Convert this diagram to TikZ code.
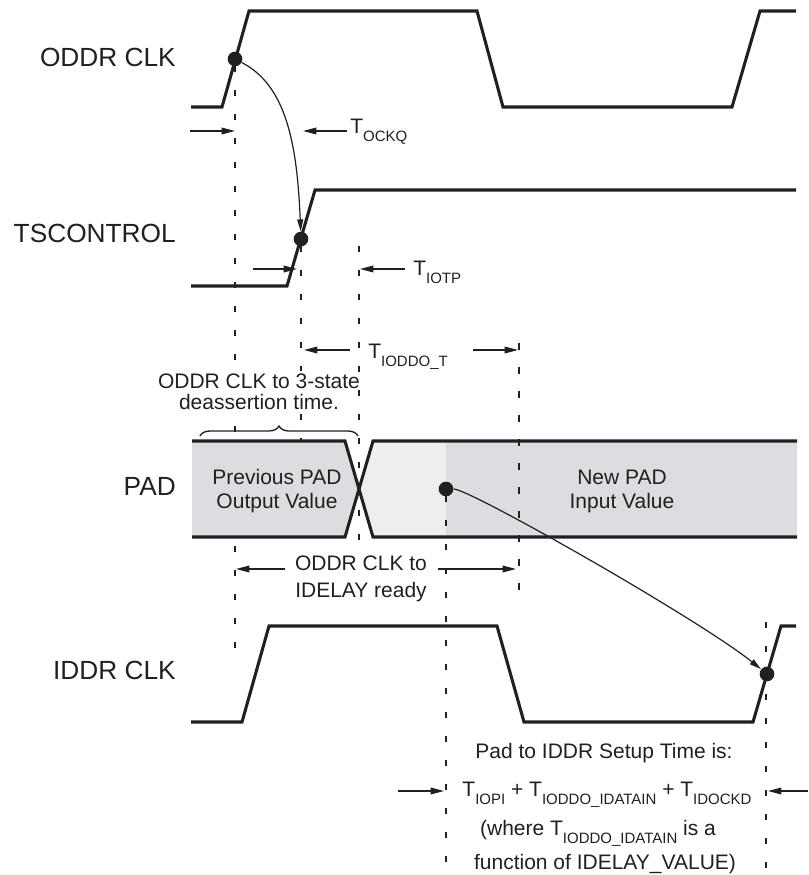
\documentclass[tikz,border=0pt]{standalone}
\usepackage{fontspec}
\setmainfont{Liberation Sans}
\usetikzlibrary{arrows.meta,decorations.pathreplacing}
\definecolor{padgray}{RGB}{220,221,224}
\definecolor{padlight}{RGB}{238,238,238}
\definecolor{ink}{RGB}{35,31,32}
\newcommand{\Tsb}[1]{T\raisebox{-6.5pt}{\fontsize{11.25}{12}\selectfont #1}}
\begin{document}
\begin{tikzpicture}[x=0.75pt,y=-0.75pt,
  wave/.style={line width=2.3pt, line join=miter, draw=ink},
  guide/.style={line width=1.1pt, draw=ink, dash pattern=on 4.3pt off 13.7pt},
  guidethick/.style={line width=2.2pt, draw=ink, dash pattern=on 5.3pt off 12.7pt},
  dim/.style={line width=1pt, draw=ink, -{Triangle[length=10pt,width=5pt]}},
  flow/.style={line width=0.9pt, draw=ink, -{Triangle[length=9pt,width=4.5pt]}},
  dot/.style={circle, fill=ink, inner sep=0pt, minimum size=11pt},
  sig/.style={font=\fontsize{19.7}{23}\selectfont, text=ink, anchor=east, inner sep=0pt},
  ann/.style={font=\fontsize{15.75}{19}\selectfont, text=ink, anchor=base, inner sep=0pt},
  tlab/.style={font=\fontsize{15.75}{19}\selectfont, text=ink, anchor=base west, inner sep=0pt},
]
\useasboundingbox (0,0) rectangle (808,875);

% ---------- guides hidden behind the previous PAD value ----------
\draw[guide] (235,66) -- (235,655);
\draw[guide] (301,246) -- (301,441);

% ---------- brace texts (white, hide guides) ----------
\node[ann, fill=white, inner sep=2pt] (br1) at (259,388) {ODDR CLK to 3-state};
\node[ann, fill=white, inner sep=2pt] (br2) at (259,409) {deassertion time.};

% ---------- PAD fills ----------
\fill[padgray] (192,441) -- (345,441) -- (359,489) -- (345,537) -- (192,537) -- cycle;
\fill[padlight] (373,441) -- (446,441) -- (446,537) -- (373,537) -- (359,489) -- cycle;
\fill[padgray] (446,441) rectangle (797,537);

% ---------- other guides ----------
\draw[guide] (359,246) -- (359,540);
\draw[guidethick] (519,343) -- (519,592);
\draw[guide] (446,496) -- (446,875);
\draw[guide] (766,622) -- (766,875);

% ---------- signal labels ----------
\node[sig] (lodd) at (176,57) {ODDR CLK};
\node[sig] (lts)  at (176,233) {TSCONTROL};
\node[sig] (lpad) at (176,486) {PAD};
\node[sig] (lidd) at (176,670) {IDDR CLK};

% ---------- waveforms ----------
\draw[wave] (191,107) -- (222,107) -- (249,11) -- (477,11) -- (503,107) -- (732,107) -- (760,11) -- (796,11);
\draw[wave] (191,286) -- (287,286) -- (315,190) -- (796,190);
\draw[wave] (192,441) -- (345,441) -- (373,537) -- (797,537);
\draw[wave] (192,537) -- (345,537) -- (373,441) -- (797,441);
\draw[wave] (191,722) -- (242,722) -- (269,626) -- (497,626) -- (524,722) -- (753,722) -- (781,626) -- (796,626);

% ---------- event dots ----------
\node[dot] (od) at (235,59) {};
\node[dot] (ts) at (301,239) {};
\node[dot] (pd) at (446,489) {};
\node[dot] (id) at (767,674) {};

% ---------- causal arrows ----------
\draw[flow] (od) .. controls (285,85) and (297,140) .. (ts);
\draw[flow] (pd) .. controls (470,489) and (700,620) .. (id);

% ---------- timing dimensions ----------
\draw[dim] (190,131) -- (235,131);
\draw[dim] (347,131) -- (303,131);
\node[tlab] (tockq) at (350,133) {\Tsb{OCKQ}};

\draw[dim] (253,269) -- (297,269);
\draw[dim] (405,269) -- (360,269);
\node[tlab] (tiotp) at (413,275) {\Tsb{IOTP}};

\draw[dim] (350,350) -- (304,350);
\node[tlab] (tioddo) at (368,358) {\Tsb{IODDO\_T}};
\draw[dim] (473,350) -- (518,350);

% ---------- brace ----------
\draw[line width=1pt, draw=ink, decorate, decoration={brace, amplitude=7.5pt}] (200,436) -- (358,436);

% ---------- PAD texts ----------
\node[ann] (pv1) at (277,484) {Previous PAD};
\node[ann] (pv2) at (277,508) {Output Value};
\node[ann] (nw1) at (622,484) {New PAD};
\node[ann] (nw2) at (622,508) {Input Value};

% ---------- ODDR CLK to IDELAY ready ----------
\node[ann] (ir1) at (361,570) {ODDR CLK to};
\node[ann] (ir2) at (361,597) {IDELAY ready};
\draw[dim] (285,569) -- (236,569);
\draw[dim] (438,569) -- (516,569);

% ---------- setup time ----------
\node[ann] (st1) at (604,758) {Pad to IDDR Setup Time is:};
\node[ann] (st2) at (607,796) {\Tsb{IOPI} + \Tsb{IODDO\_IDATAIN} + \Tsb{IDOCKD}};
\node[ann] (st3) at (598,835) {(where \Tsb{IODDO\_IDATAIN} is a};
\node[ann] (st4) at (605,869) {function of IDELAY\_VALUE)};
\draw[dim] (398,791) -- (444,791);
\draw[dim] (808,791) -- (768,791);
\end{tikzpicture}
\end{document}
